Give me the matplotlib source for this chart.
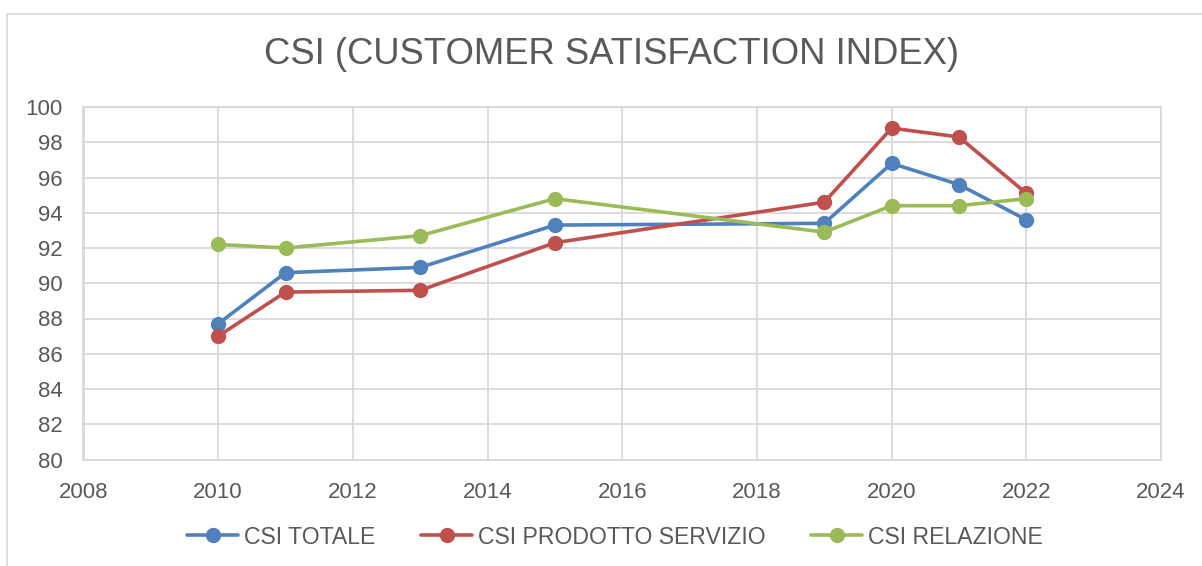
import numpy as np
import matplotlib.pyplot as plt
from matplotlib.patches import Rectangle

plt.rcParams["font.family"] = ["Liberation Sans", "DejaVu Sans"]

# === data ===
years_totale = [2010, 2011, 2013, 2015, 2019, 2020, 2021, 2022]
csi_totale = [87.7, 90.6, 90.9, 93.3, 93.4, 96.8, 95.6, 93.6]
csi_prodotto = [87.0, 89.5, 89.6, 92.3, 94.6, 98.8, 98.3, 95.1]
csi_relazione = [92.2, 92.0, 92.7, 94.8, 92.9, 94.4, 94.4, 94.8]

series_names = ["CSI TOTALE", "CSI PRODOTTO SERVIZIO", "CSI RELAZIONE"]
colors = ["#4F81BD", "#C0504D", "#9BBB59"]
text_color = "#595959"
grid_color = "#D9D9D9"

W, H = 1202, 566
fig = plt.figure(figsize=(W / 100, H / 100), dpi=100)

# plot area in pixels
left, right, top, bottom = 83.5, 1161, 107, 459.5
ax = fig.add_axes([left / W, 1 - bottom / H, (right - left) / W, (bottom - top) / H])

for ys, name, c in zip([csi_totale, csi_prodotto, csi_relazione], series_names, colors):
    ax.plot(years_totale, ys, color=c, linewidth=2.6, marker="o", markersize=10,
            label=name, solid_capstyle="round", zorder=3)

ax.set_xlim(2008, 2024)
ax.set_ylim(80, 100)
ax.set_xticks(np.arange(2008, 2025, 2))
ax.set_yticks(np.arange(80, 101, 2))
ax.grid(True, color=grid_color, linewidth=1.3)
ax.set_axisbelow(True)
for s in ax.spines.values():
    s.set_color(grid_color)
    s.set_linewidth(1.3)
ax.tick_params(length=0, labelsize=16, labelcolor=text_color)
ax.tick_params(axis="x", pad=16)
ax.tick_params(axis="y", pad=15)

fig.text(611 / W, 1 - 55 / H, "CSI (CUSTOMER SATISFACTION INDEX)", ha="center", va="center",
         fontsize=26.2, color=text_color)

leg = fig.legend(loc="center", bbox_to_anchor=(615 / W, 1 - 537 / H), ncol=3, frameon=False,
                 fontsize=16.6, handlelength=2.2, handletextpad=0.25, columnspacing=2.0,
                 borderaxespad=0)
for t in leg.get_texts():
    t.set_color(text_color)

# outer chart border (only top and left visible in the crop)
fig.patches.append(Rectangle((7 / W, -0.1), 1.2, 1 - 14 / H + 0.1, transform=fig.transFigure,
                             fill=False, edgecolor=grid_color, linewidth=1.2))

fig.savefig("out.png", dpi=100)
